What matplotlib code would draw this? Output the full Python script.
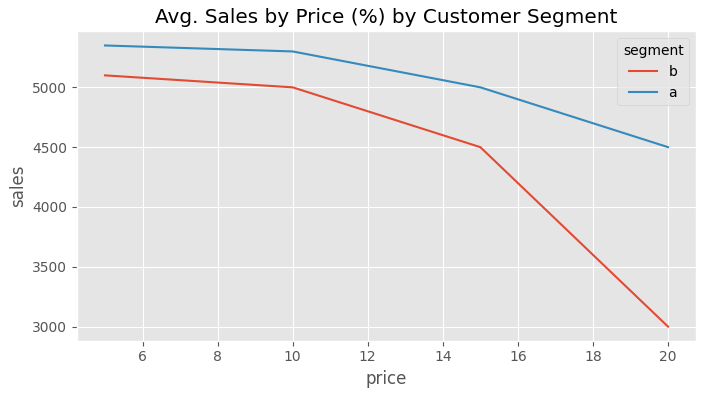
import matplotlib
matplotlib.use("Agg")
import matplotlib.pyplot as plt

plt.style.use("ggplot")

price = [5, 10, 15, 20]
sales_b = [5100, 5000, 4500, 3000]
sales_a = [5350, 5300, 5000, 4500]

fig, ax = plt.subplots(figsize=(7.05, 3.95), dpi=100)
ax.plot(price, sales_b, label="b")
ax.plot(price, sales_a, label="a")
ax.set_title("Avg. Sales by Price (%) by Customer Segment")
ax.set_xlabel("price")
ax.set_ylabel("sales")
ax.legend(title="segment")

fig.subplots_adjust(left=0.109, right=0.9875, top=0.9205, bottom=0.1375)
fig.savefig("out.png")
